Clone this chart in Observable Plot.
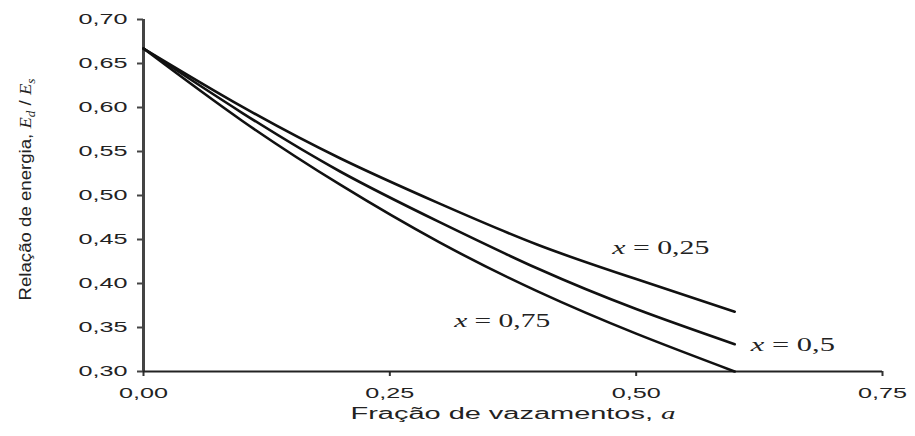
<!DOCTYPE html>
<html>
<head>
<meta charset="utf-8">
<script src="https://cdn.jsdelivr.net/npm/d3@7"></script>
<script src="https://cdn.jsdelivr.net/npm/@observablehq/plot@0.6"></script>
<style>
  html, body { margin: 0; padding: 0; background: white; }
</style>
</head>
<body>
<div id="chart"></div>
<script>
// Data
const aValues = [0, 0.1, 0.2, 0.3, 0.4, 0.5, 0.6];
const e25 = [0.667, 0.601, 0.542, 0.491, 0.444, 0.405, 0.368];
const e50 = [0.667, 0.594, 0.527, 0.470, 0.417, 0.371, 0.331];
const e75 = [0.667, 0.585, 0.512, 0.447, 0.391, 0.343, 0.300];
const seriesNames = ["x = 0,25", "x = 0,5", "x = 0,75"];
const seriesValues = [e25, e50, e75];
const labelA = [0.525, 0.659, 0.364];
const labelV = [0.44, 0.33, 0.357];
const xTicks = [0, 0.25, 0.5, 0.75];
const yTicks = [0.30, 0.35, 0.40, 0.45, 0.50, 0.55, 0.60, 0.65, 0.70];
const xTitle = "Fração de vazamentos, a";
const yTitle = "Relação de energia, Ed / Es";

const data = [];
seriesNames.forEach((s, i) => {
  aValues.forEach((a, j) => data.push({series: s, a, e: seriesValues[i][j]}));
});
const labels = seriesNames.map((t, i) => ({t, a: labelA[i], v: labelV[i]}));
const fmt = d => d.toFixed(2).replace(".", ",");

const chart = Plot.plot({
  width: 915,
  height: 436,
  marginLeft: 143,
  marginRight: 33,
  marginTop: 19,
  marginBottom: 65,
  x: {domain: [0, 0.75]},
  y: {domain: [0.3, 0.7]},
  style: {fontFamily: "'Liberation Sans', Arial, sans-serif", background: "white", color: "#222"},
  marks: [
    Plot.axisY({ticks: yTicks, tickFormat: fmt, tickSize: 6, tickPadding: 10, fontSize: 14, label: null, stroke: "#444", strokeWidth: 2}),
    Plot.axisX({ticks: xTicks, tickFormat: fmt, tickSize: 5, tickPadding: 12, fontSize: 14, label: null, stroke: "#333", strokeWidth: 2}),
    Plot.ruleX([0], {stroke: "#444", strokeWidth: 3}),
    Plot.ruleY([0.3], {stroke: "#222", strokeWidth: 2}),
    Plot.line(data, {x: "a", y: "e", z: "series", stroke: "#111", strokeWidth: 2.6, curve: "natural"}),
    Plot.text(labels, {x: "a", y: "v", text: "t", fontFamily: "'Liberation Serif', 'Times New Roman', serif", fontSize: 18, fill: "#222"}),
    Plot.text([xTitle], {frameAnchor: "bottom", dy: 47, fontSize: 16, fill: "#222"}),
    Plot.text([yTitle], {frameAnchor: "left", textAnchor: "middle", dx: -118, dy: -6, rotate: -90, fontSize: 17, fill: "#222"})
  ]
});
document.getElementById("chart").appendChild(chart);

// Post-process text to match the stretched look and italic math
const svg = d3.select(chart);
const serif = "'Liberation Serif', 'Times New Roman', serif";
svg.selectAll("text").each(function() {
  const el = d3.select(this);
  const txt = this.textContent;
  if (/^\d,\d\d$/.test(txt)) {
    el.attr("textLength", 49).attr("lengthAdjust", "spacingAndGlyphs");
  } else if (txt.startsWith("x = ")) {
    const rest = txt.slice(1);
    el.text(null);
    el.append("tspan").attr("font-style", "italic").text("x");
    el.append("tspan").text(rest);
    const w = {"x = 0,25": 97, "x = 0,5": 84, "x = 0,75": 96}[txt] || 90;
    el.attr("textLength", w).attr("lengthAdjust", "spacingAndGlyphs");
  } else if (txt === xTitle) {
    el.text(null);
    el.append("tspan").text("Fração de vazamentos, ");
    el.append("tspan").attr("font-style", "italic").attr("font-family", serif).text("a");
    el.attr("textLength", 325).attr("lengthAdjust", "spacingAndGlyphs");
  } else if (txt === yTitle) {
    el.text(null);
    el.append("tspan").text("Relação de energia, ");
    el.append("tspan").attr("font-style", "italic").attr("font-family", serif).text("E");
    el.append("tspan").attr("font-style", "italic").attr("font-family", serif).attr("font-size", 12).attr("dy", 4).text("d");
    el.append("tspan").attr("dy", -4).text(" / ");
    el.append("tspan").attr("font-style", "italic").attr("font-family", serif).text("E");
    el.append("tspan").attr("font-style", "italic").attr("font-family", serif).attr("font-size", 12).attr("dy", 4).text("s");
    el.attr("textLength", 222).attr("lengthAdjust", "spacingAndGlyphs");
  }
});
</script>
</body>
</html>
